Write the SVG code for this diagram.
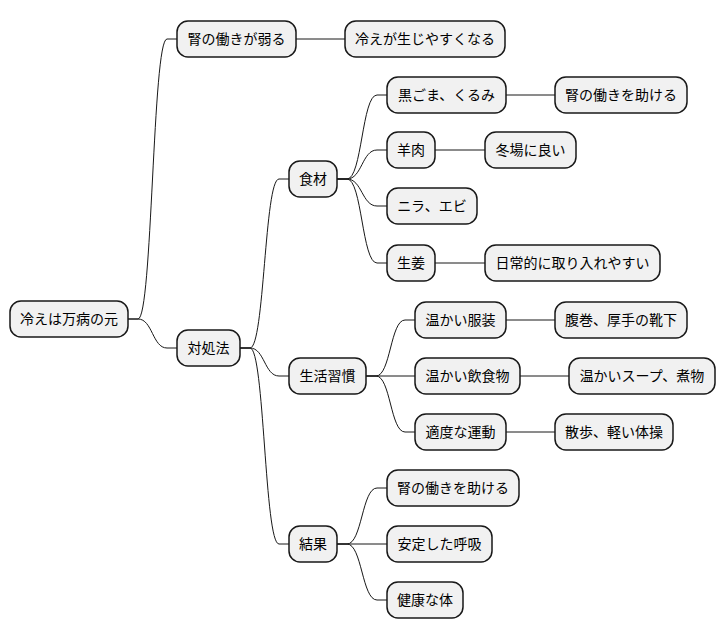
<svg xmlns="http://www.w3.org/2000/svg" width="726" height="640" viewBox="0 0 726 640">
<style>
.n rect{fill:#F1F1F1;stroke:#181818;stroke-width:1.5}
.n text{font-family:"Noto Sans CJK JP","Noto Sans",sans-serif;font-size:14px;fill:#000;text-anchor:middle}
.c path{fill:none;stroke:#181818;stroke-width:1}
</style>
<rect width="726" height="640" fill="#FFFFFF"/>
<g class="c">
<path d="M128,319 L138,319 C152.5,319 152.5,39 167,39 L177,39"/>
<path d="M128,319 L138,319 C152.5,319 152.5,348 167,348 L177,348"/>
<path d="M296,39 L345,39"/>
<path d="M240,348 L250,348 C264.5,348 264.5,179 279,179 L289,179"/>
<path d="M240,348 L250,348 C264.5,348 264.5,376 279,376 L289,376"/>
<path d="M240,348 L250,348 C264.5,348 264.5,544 279,544 L289,544"/>
<path d="M337,179 L347,179 C362,179 362,95 377,95 L387,95"/>
<path d="M337,179 L347,179 C362,179 362,150 377,150 L387,150"/>
<path d="M337,179 L347,179 C362,179 362,206 377,206 L387,206"/>
<path d="M337,179 L347,179 C362,179 362,263 377,263 L387,263"/>
<path d="M506,95 L555,95"/>
<path d="M435,150 L485,150"/>
<path d="M435,263 L485,263"/>
<path d="M366,376 L376,376 C390.5,376 390.5,320 405,320 L415,320"/>
<path d="M366,376 L415,376"/>
<path d="M366,376 L376,376 C390.5,376 390.5,432 405,432 L415,432"/>
<path d="M506,320 L555,320"/>
<path d="M520,376 L569,376"/>
<path d="M506,432 L555,432"/>
<path d="M337,544 L347,544 C362,544 362,488 377,488 L387,488"/>
<path d="M337,544 L387,544"/>
<path d="M337,544 L347,544 C362,544 362,600 377,600 L387,600"/>
</g>
<g class="n" id="root"><rect x="10" y="301" width="118" height="36" rx="11"/><text x="69" y="324">冷えは万病の元</text></g>
<g class="n" id="n1"><rect x="177" y="21" width="119" height="36" rx="11"/><text x="236.5" y="44">腎の働きが弱る</text></g>
<g class="n" id="n1a"><rect x="345" y="21" width="160" height="36" rx="11"/><text x="425" y="44">冷えが生じやすくなる</text></g>
<g class="n" id="n2"><rect x="177" y="330" width="63" height="36" rx="11"/><text x="208.5" y="353">対処法</text></g>
<g class="n" id="n21"><rect x="289" y="161" width="48" height="36" rx="11"/><text x="313" y="184">食材</text></g>
<g class="n" id="n211"><rect x="387" y="77" width="119" height="36" rx="11"/><text x="446.5" y="100">黒ごま、くるみ</text></g>
<g class="n" id="n211a"><rect x="555" y="77" width="132" height="36" rx="11"/><text x="621" y="100">腎の働きを助ける</text></g>
<g class="n" id="n212"><rect x="387" y="132" width="48" height="36" rx="11"/><text x="411" y="155">羊肉</text></g>
<g class="n" id="n212a"><rect x="485" y="132" width="91" height="36" rx="11"/><text x="530.5" y="155">冬場に良い</text></g>
<g class="n" id="n213"><rect x="387" y="188" width="90" height="36" rx="11"/><text x="432" y="211">ニラ、エビ</text></g>
<g class="n" id="n214"><rect x="387" y="245" width="48" height="36" rx="11"/><text x="411" y="268">生姜</text></g>
<g class="n" id="n214a"><rect x="485" y="245" width="175" height="36" rx="11"/><text x="572.5" y="268">日常的に取り入れやすい</text></g>
<g class="n" id="n22"><rect x="289" y="358" width="77" height="36" rx="11"/><text x="327.5" y="381">生活習慣</text></g>
<g class="n" id="n221"><rect x="415" y="302" width="91" height="36" rx="11"/><text x="460.5" y="325">温かい服装</text></g>
<g class="n" id="n221a"><rect x="555" y="302" width="132" height="36" rx="11"/><text x="621" y="325">腹巻、厚手の靴下</text></g>
<g class="n" id="n222"><rect x="415" y="358" width="105" height="36" rx="11"/><text x="467.5" y="381">温かい飲食物</text></g>
<g class="n" id="n222a"><rect x="569" y="358" width="146" height="36" rx="11"/><text x="642" y="381">温かいスープ、煮物</text></g>
<g class="n" id="n223"><rect x="415" y="414" width="91" height="36" rx="11"/><text x="460.5" y="437">適度な運動</text></g>
<g class="n" id="n223a"><rect x="555" y="414" width="118" height="36" rx="11"/><text x="614" y="437">散歩、軽い体操</text></g>
<g class="n" id="n23"><rect x="289" y="526" width="48" height="36" rx="11"/><text x="313" y="549">結果</text></g>
<g class="n" id="n231"><rect x="387" y="470" width="132" height="36" rx="11"/><text x="453" y="493">腎の働きを助ける</text></g>
<g class="n" id="n232"><rect x="387" y="526" width="105" height="36" rx="11"/><text x="439.5" y="549">安定した呼吸</text></g>
<g class="n" id="n233"><rect x="387" y="582" width="76" height="36" rx="11"/><text x="425" y="605">健康な体</text></g>
</svg>
